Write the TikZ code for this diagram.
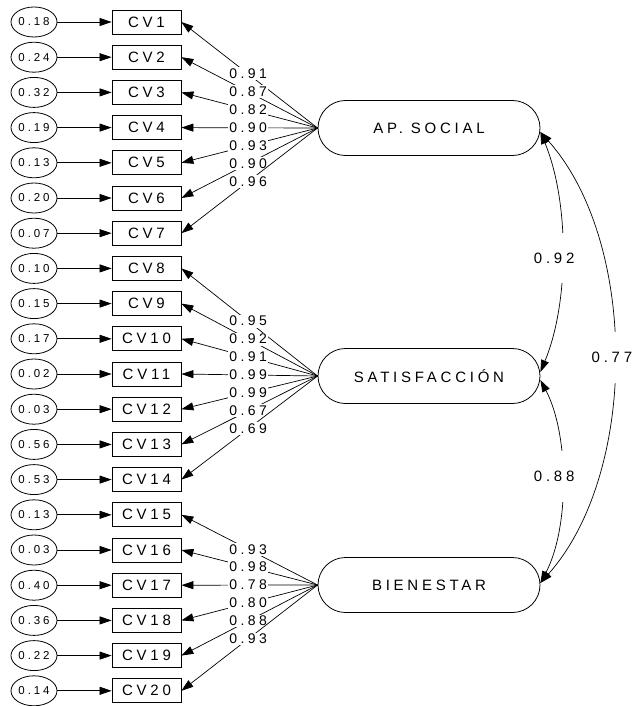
\documentclass[tikz,border=0pt]{standalone}
\usepackage{fontspec}
\setmainfont{Liberation Sans}[LetterSpace=25]
\usetikzlibrary{arrows.meta,shapes.misc,shapes.geometric}

\begin{document}
\begin{tikzpicture}[x=1pt,y=-1pt,
  obs/.style={draw, line width=0.8pt, minimum width=69pt, minimum height=24pt,
    inner sep=0pt, font=\fontsize{15}{18}\selectfont},
  err/.style={draw, ellipse, line width=0.8pt, minimum width=46pt, minimum height=30pt,
    inner sep=0pt, font=\fontsize{11.5}{13}\selectfont},
  lat/.style={draw, rounded rectangle, line width=0.8pt, minimum width=222pt,
    minimum height=55pt, inner sep=0pt, font=\fontsize{15}{18}\selectfont},
  tip/.tip={Triangle[length=12pt,width=8pt]},
  arr/.style={-tip, line width=0.7pt},
  dbl/.style={tip-tip, line width=0.7pt},
  load/.style={fill=white, inner xsep=1pt, inner ysep=1.5pt, font=\fontsize{14}{16}\selectfont},
  corr/.style={fill=white, inner xsep=1pt, inner ysep=20pt, font=\fontsize{15}{18}\selectfont},
]
\useasboundingbox (0,0) rectangle (634,706);

% indicators with their error terms
\foreach \i/\e in {1/0.18,2/0.24,3/0.32,4/0.19,5/0.13,6/0.20,7/0.07,
                   8/0.10,9/0.15,10/0.17,11/0.02,12/0.03,13/0.56,14/0.53,
                   15/0.13,16/0.03,17/0.40,18/0.36,19/0.22,20/0.14}{
  \pgfmathsetmacro\yy{22+(\i-1)*35.2}
  \node[err] (e\i) at (34,\yy) {\e};
  \node[obs] (cv\i) at (146.5,\yy) {CV\i};
  \draw[arr] (e\i) -- (cv\i);
}

% latent factors
\node[lat] (ap)  at (429,128) {AP. SOCIAL};
\node[lat] (sat) at (429,376) {SATISFACCIÓN};
\node[lat] (bie) at (429,585) {BIENESTAR};

% factor loadings
\foreach \i/\v in {1/0.91,2/0.87,3/0.82,4/0.90,5/0.93,6/0.90,7/0.96}
  \draw[arr] (ap.west) -- node[load,pos=0.51]{\v} (cv\i.east);
\foreach \i/\v in {8/0.95,9/0.92,10/0.91,11/0.99,12/0.99,13/0.67,14/0.69}
  \draw[arr] (sat.west) -- node[load,pos=0.51]{\v} (cv\i.east);
\foreach \i/\v in {15/0.93,16/0.98,17/0.78,18/0.80,19/0.88,20/0.93}
  \draw[arr] (bie.west) -- node[load,pos=0.51]{\v} (cv\i.east);

% correlations between factors
\draw[dbl] ([yshift=-4pt]ap.east) .. controls +(29,70) and +(29,-70) ..
  node[corr,pos=0.5,xshift=-8pt,yshift=-6pt]{0.92} ([yshift=4pt]sat.east);
\draw[dbl] ([yshift=-4pt]sat.east) .. controls +(29,55) and +(29,-55) ..
  node[corr,pos=0.5,xshift=-8pt,yshift=5pt]{0.88} ([yshift=2pt]bie.east);
\draw[dbl] ([yshift=-4pt]ap.east) .. controls +(98,110) and +(98,-110) ..
  node[corr,pos=0.5,xshift=-2pt]{0.77} ([yshift=2pt]bie.east);
\end{tikzpicture}
\end{document}
